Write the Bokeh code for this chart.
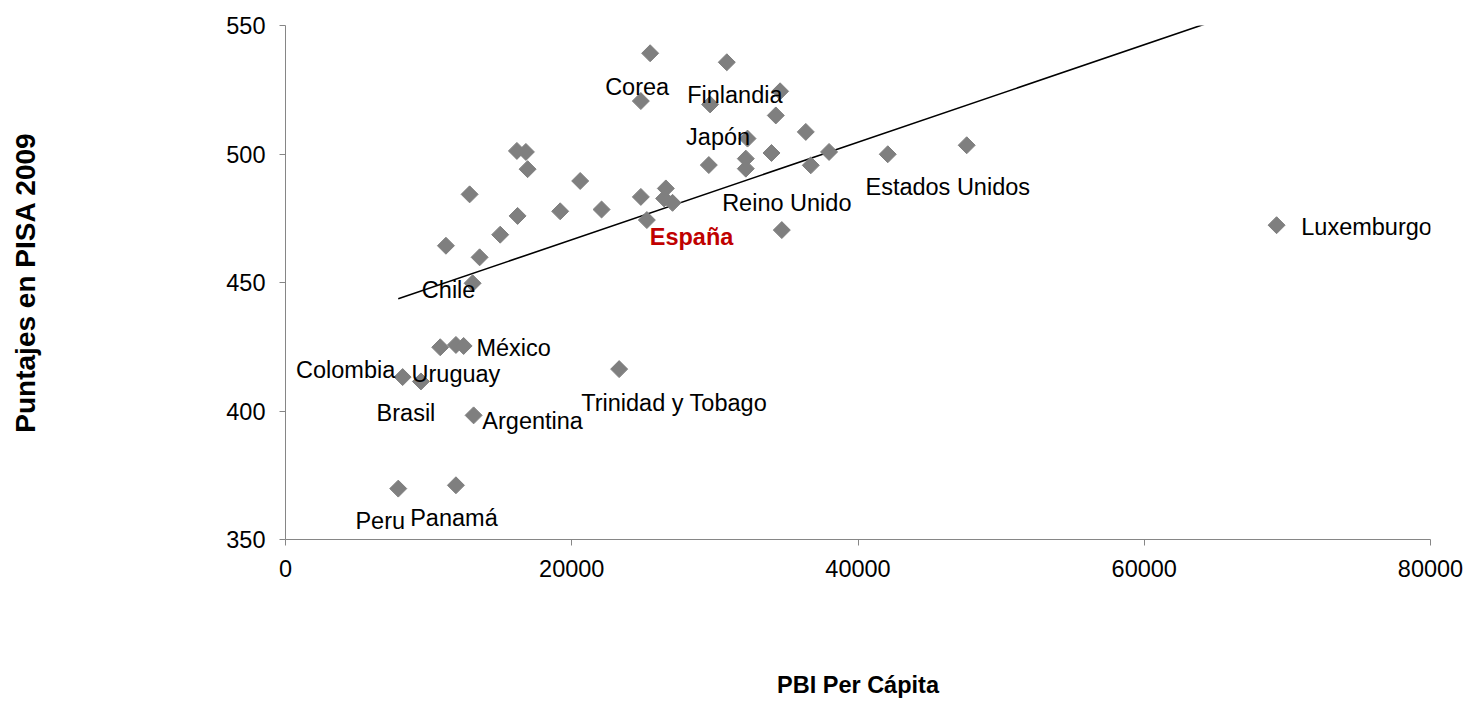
import numpy as np
from bokeh.plotting import figure
from bokeh.models import Range1d, FixedTicker, BasicTickFormatter, ColumnDataSource
from bokeh.core.properties import value
from bokeh.embed import file_html
from bokeh.resources import INLINE

# ---- data ----
gdp_per_capita = [16168, 16796, 16915, 12864, 20589, 24828, 26574, 26455, 27042, 25247,
                  16217, 19192, 22083, 15001, 11209, 13563, 13074, 25478, 30834, 24828,
                  29668, 34557, 34257, 36352, 32280, 33956, 32161, 32161, 29577, 36701,
                  37979, 34676, 42079, 47596, 69246, 10811, 11908, 12446, 8185, 9463,
                  23312, 13144, 7878, 11908]
pisa_2009 = [501.2, 500.8, 494.1, 484.3, 489.5, 483.3, 486.6, 482.7, 481.0, 474.3,
             475.9, 477.7, 478.4, 468.6, 464.3, 459.8, 449.7, 539.2, 535.7, 520.6,
             519.3, 524.4, 515.0, 508.6, 506.0, 500.4, 498.2, 494.3, 495.7, 495.6,
             500.8, 470.4, 499.9, 503.4, 472.3, 424.8, 425.7, 425.3, 413.2, 411.5,
             416.3, 398.3, 369.8, 371.1]

label_names = ["Corea", "Finlandia", "Japón", "Estados Unidos", "Reino Unido", "Luxemburgo",
               "Chile", "México", "Colombia", "Uruguay", "Brasil", "Argentina",
               "Trinidad y Tobago", "Peru", "Panamá"]
label_point = [17, 18, 20, 32, 27, 34, 16, 37, 38, 36, 39, 41, 40, 42, 43]
highlight_name = "España"
highlight_point = 8

trend_slope = 0.001897
trend_intercept = 428.7

x_ticks = [0, 20000, 40000, 60000, 80000]
y_ticks = [350, 400, 450, 500, 550]

# ---- styles / placement (screen px) ----
label_dx = [-13, 8, 8, 60, 41, 90, -24, 50, -57, 0, -15, 59, 55, -18, -2]
label_dy = [34, 33, 33, 33, 34, 2, 7, 2, -7, 29, 32, 6, 34, 32, 33]
FONT = "Liberation Sans"
AXIS_GRAY = "#868686"

p = figure(width=1465, height=700, output_backend="svg", toolbar_location=None,
           x_range=Range1d(0, 80000), y_range=Range1d(350, 550),
           min_border_left=285, min_border_right=35, min_border_top=25, min_border_bottom=160)
p.outline_line_color = None
p.xgrid.visible = False
p.ygrid.visible = False
p.background_fill_color = "white"
p.border_fill_color = "white"

# trend line
tx = np.array([min(gdp_per_capita), max(gdp_per_capita)], dtype=float)
p.line(tx, trend_intercept + trend_slope * tx, line_color="black", line_width=1.6)

# points
p.scatter(gdp_per_capita, pisa_2009, marker="square", angle=np.pi / 4, size=12,
          fill_color="#7F7F7F", line_color="#7F7F7F")

# labels
src = ColumnDataSource(dict(
    x=[gdp_per_capita[i] for i in label_point],
    y=[pisa_2009[i] for i in label_point],
    text=label_names, dx=label_dx, dy=label_dy))
p.text(x="x", y="y", text="text", x_offset="dx", y_offset="dy", source=src,
       text_font=value(FONT), text_font_size="23.5px", text_color="black",
       text_align="center", text_baseline="middle")

p.text(x=[gdp_per_capita[highlight_point]], y=[pisa_2009[highlight_point]],
       text=[highlight_name], x_offset=19, y_offset=34,
       text_font=value(FONT), text_font_size="23.5px", text_font_style="bold",
       text_color="#C00000", text_align="center", text_baseline="middle")

for ax in (p.xaxis[0], p.yaxis[0]):
    ax.axis_line_color = AXIS_GRAY
    ax.major_tick_line_color = AXIS_GRAY
    ax.minor_tick_line_color = None
    ax.major_tick_in = 0
    ax.major_tick_out = 6
    ax.major_label_standoff = 14
    ax.major_label_text_font = FONT
    ax.major_label_text_font_size = "23.5px"
    ax.major_label_text_color = "black"
    ax.axis_label_text_font = FONT
    ax.axis_label_text_font_style = "bold"
    ax.axis_label_text_color = "black"

p.xaxis[0].ticker = FixedTicker(ticks=x_ticks)
p.yaxis[0].ticker = FixedTicker(ticks=y_ticks)
p.xaxis[0].formatter = BasicTickFormatter(use_scientific=False)
p.yaxis[0].formatter = BasicTickFormatter(use_scientific=False)

p.xaxis[0].axis_label = "PBI Per Cápita"
p.xaxis[0].axis_label_text_font_size = "23.5px"
p.xaxis[0].axis_label_standoff = 92
p.yaxis[0].axis_label = "Puntajes en PISA 2009"
p.yaxis[0].axis_label_text_font_size = "28px"
p.yaxis[0].axis_label_standoff = 182

open("out.html", "w").write(file_html(p, INLINE))
